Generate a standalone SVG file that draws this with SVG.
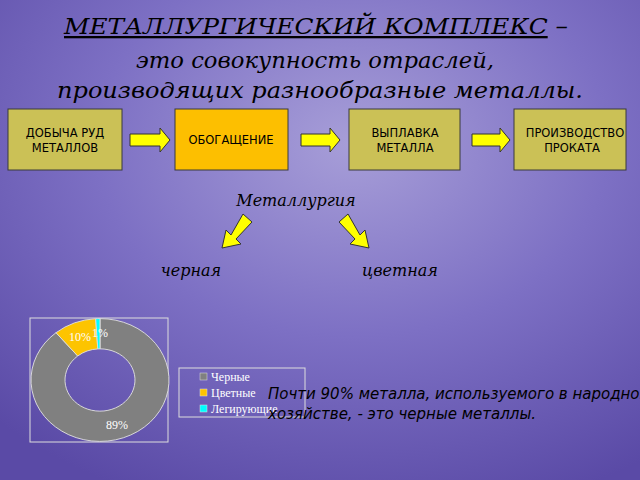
<svg xmlns="http://www.w3.org/2000/svg" width="640" height="480" viewBox="0 0 640 480">
<defs>
<radialGradient id="bg" cx="0.55" cy="0.3" r="0.8">
<stop offset="0" stop-color="#a79ed8"/><stop offset="0.5" stop-color="#7d70c4"/><stop offset="1" stop-color="#5a4aa6"/>
</radialGradient>
<style>
.t{font-family:"DejaVu Serif",serif;font-style:italic;fill:#000}
.b{font-family:"DejaVu Sans",sans-serif;font-size:11.5px;fill:#000;text-anchor:middle}
.box{stroke:#3a3a3a;stroke-width:1}
.ar{fill:#ffff00;stroke:#333;stroke-width:1}
.lg{font-family:"Liberation Serif",serif;font-size:12px;fill:#fff}
</style>
</defs>
<rect width="640" height="480" fill="url(#bg)"/>
<g id="title" class="t" text-anchor="middle" font-size="23">
<text x="316" y="34" textLength="504" lengthAdjust="spacingAndGlyphs"><tspan text-decoration="underline">МЕТАЛЛУРГИЧЕСКИЙ КОМПЛЕКС</tspan> –</text>
<text x="315" y="68" textLength="358" lengthAdjust="spacingAndGlyphs">это совокупность отраслей,</text>
<text x="320" y="98" textLength="526" lengthAdjust="spacingAndGlyphs">производящих разнообразные металлы.</text>
</g>
<g id="n1"><rect class="box" x="8" y="109" width="114" height="61" fill="#cbc156"/><text class="b" x="65" y="137">ДОБЫЧА РУД</text><text class="b" x="65" y="152">МЕТАЛЛОВ</text></g>
<g id="n2"><rect class="box" x="175" y="109" width="113" height="61" fill="#fdbf00"/><text class="b" x="231" y="144">ОБОГАЩЕНИЕ</text></g>
<g id="n3"><rect class="box" x="349" y="109" width="111" height="61" fill="#cbc156"/><text class="b" x="405" y="137">ВЫПЛАВКА</text><text class="b" x="405" y="152">МЕТАЛЛА</text></g>
<g id="n4"><rect class="box" x="514" y="109" width="112" height="61" fill="#cbc156"/><text class="b" x="575" y="137">ПРОИЗВОДСТВО</text><text class="b" x="572" y="152">ПРОКАТА</text></g>
<g id="connectors">
<path class="ar" d="M130 134 H160 V128 L170 140 L160 152 V146 H130 Z"/>
<path class="ar" d="M301 134 H330 V128 L340 140 L330 152 V146 H301 Z"/>
<path class="ar" d="M472 134 H500 V128 L510 140 L500 152 V146 H472 Z"/>
<path class="ar" d="M243 214 L252 222 L236 239 L241 244 L222 248 L226 230 L231 235 Z"/>
<path class="ar" d="M348 214 L339 222 L355 239 L350 244 L369 248 L365 230 L360 235 Z"/>
</g>
<g id="labels" class="t" font-size="16">
<text x="296" y="206" text-anchor="middle">Металлургия</text>
<text x="191" y="276" text-anchor="middle">черная</text>
<text x="400" y="276" text-anchor="middle">цветная</text>
</g>
<g id="chart">
<rect x="30" y="318" width="138" height="124" fill="none" stroke="#ddd" stroke-width="1"/>
<g transform="translate(100 380) scale(1 0.89) translate(-100 -380)">
<path d="M100 311 A69 69 0 1 1 56.02 326.84 L77.69 353.03 A35 35 0 1 0 100 345 Z" fill="#808080" stroke="#ddd"/>
<path d="M56.02 326.84 A69 69 0 0 1 95.67 311.14 L97.80 345.07 A35 35 0 0 0 77.69 353.03 Z" fill="#fdc400" stroke="#ddd"/>
<path d="M95.67 311.14 A69 69 0 0 1 100 311 L100 345 A35 35 0 0 0 97.80 345.07 Z" fill="#00ffff" stroke="#ddd"/>
</g>
<text class="lg" x="80" y="341" text-anchor="middle" font-size="9">10%</text>
<text class="lg" x="92" y="337" font-size="9">1%</text>
<text class="lg" x="117" y="429" text-anchor="middle" font-size="9">89%</text>
<rect x="179" y="368" width="126" height="49" fill="none" stroke="#ddd"/>
<rect x="200" y="373" width="7" height="7" fill="#808080" stroke="#ddd" stroke-width="0.5"/><text class="lg" x="211" y="381">Черные</text>
<rect x="200" y="389" width="7" height="7" fill="#fdc400" stroke="#ddd" stroke-width="0.5"/><text class="lg" x="211" y="397">Цветные</text>
<rect x="200" y="405" width="7" height="7" fill="#00ffff" stroke="#ddd" stroke-width="0.5"/><text class="lg" x="211" y="413">Легирующие</text>
</g>
<g id="note" font-family="DejaVu Sans, sans-serif" font-style="italic" font-size="15" fill="#000">
<text x="268" y="399">Почти 90% металла, используемого в народном</text>
<text x="268" y="419">хозяйстве, - это черные металлы.</text>
</g>
</svg>
